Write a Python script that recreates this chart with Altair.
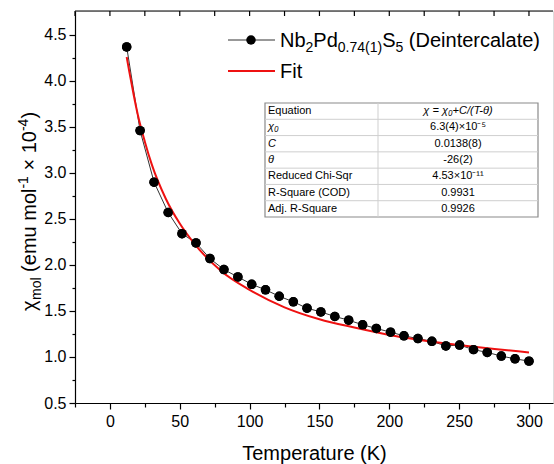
import altair as alt
import pandas as pd

# Measured molar susceptibility (units of 1e-4 emu/mol) vs temperature
temperature = [12.0, 21.6, 31.6, 41.7, 51.6, 61.6, 71.6, 81.6, 91.6, 101.5,
               111.4, 121.2, 131.3, 141.1, 151.0, 161.0, 170.9, 180.9, 190.7, 200.9,
               210.5, 220.5, 230.5, 240.5, 250.3, 260.3, 270.1, 280.2, 290.0, 300.0]
chi_mol = [4.37, 3.46, 2.90, 2.57, 2.34, 2.24, 2.07, 1.95, 1.87, 1.79,
           1.73, 1.66, 1.60, 1.53, 1.49, 1.44, 1.40, 1.35, 1.31, 1.27,
           1.23, 1.20, 1.17, 1.12, 1.13, 1.08, 1.05, 1.01, 0.98, 0.955]

# Curie-Weiss fit curve
fit_temperature = [12, 14, 17, 20, 25, 30, 40, 50, 60, 80, 100, 125, 150, 175, 200, 250, 300]
fit_chi = [4.26, 4.09, 3.85, 3.63, 3.34, 3.09, 2.72, 2.45, 2.24, 1.93, 1.73, 1.54,
           1.41, 1.32, 1.24, 1.13, 1.05]

# Fit-report table
table_labels = ["Equation", "χ₀", "C", "θ", "Reduced Chi-Sqr", "R-Square (COD)", "Adj. R-Square"]
table_values = ["χ = χ₀+C/(T-θ)", "6.3(4)×10⁻⁵", "0.0138(8)", "-26(2)", "4.53×10⁻¹¹", "0.9931", "0.9926"]
table_italic = [False, True, True, True, False, False, False]

x_major = [0, 50, 100, 150, 200, 250, 300]
x_minor = [-25, 25, 75, 125, 175, 225, 275]
y_major = [0.5, 1.0, 1.5, 2.0, 2.5, 3.0, 3.5, 4.0, 4.5]
y_minor = [0.75, 1.25, 1.75, 2.25, 2.75, 3.25, 3.75, 4.25]
top_ticks = list(range(-25, 301, 25))

FONT = "Liberation Sans"
W, H = 478, 392
LEFT, TOP = 75, 11

data = pd.DataFrame({"T": temperature, "chi": chi_mol})
fit = pd.DataFrame({"T": fit_temperature, "chi": fit_chi})
one = pd.DataFrame({"k": [0]})

xs = alt.Scale(domain=[-25, 317.2], nice=False, zero=False)
ys = alt.Scale(domain=[0.5, 4.76], nice=False, zero=False)

axis_common = dict(domainColor="black", domainWidth=1.2, tickColor="black", tickWidth=1.2,
                   labelFont=FONT, labelFontSize=16, labelColor="black", grid=False)

x_major_axis = alt.Axis(values=x_major, tickSize=6, labelPadding=4, title="Temperature (K)",
                        titleFont=FONT, titleFontSize=20, titleFontWeight="normal",
                        titleColor="black", titlePadding=14, format="d", **axis_common)
x_minor_axis = alt.Axis(values=x_minor, tickSize=4, labels=False, domain=False, title=None,
                        orient="bottom", tickColor="black", tickWidth=1.2, grid=False)
y_major_axis = alt.Axis(values=y_major, tickSize=6, labelPadding=3, title=None, format=".1f",
                        **axis_common)
y_minor_axis = alt.Axis(values=y_minor, tickSize=3, labels=False, domain=False, title=None,
                        orient="left", tickColor="black", tickWidth=1.2, grid=False)

points = alt.Chart(data).mark_circle(size=90, color="black", opacity=1).encode(
    x=alt.X("T:Q", scale=xs, axis=x_major_axis),
    y=alt.Y("chi:Q", scale=ys, axis=y_major_axis),
)
connect = alt.Chart(data).mark_line(color="#333333", strokeWidth=1).encode(
    x=alt.X("T:Q", scale=xs, axis=x_minor_axis),
    y=alt.Y("chi:Q", scale=ys, axis=y_minor_axis),
)
fit_line = alt.Chart(fit).mark_line(color="#ee1111", strokeWidth=2, interpolate="monotone").encode(
    x=alt.X("T:Q", scale=xs, axis=None),
    y=alt.Y("chi:Q", scale=ys, axis=None),
)

# frame: top edge with inward ticks
top_edge = alt.Chart(one).mark_rule(color="black", strokeWidth=1.2).encode(
    x=alt.value(0), x2=alt.value(W), y=alt.value(0))
top_tick_marks = alt.Chart(pd.DataFrame({"T": top_ticks})).mark_rule(
    color="black", strokeWidth=1.2).encode(
    x=alt.X("T:Q", scale=xs, axis=None), y=alt.value(0), y2=alt.value(5))

# Arial-compatible advance widths (em units) for composing sub/superscripts
ADV = {"N": .722, "b": .556, "P": .667, "d": .556, "S": .667, " ": .278,
       "(": .333, ")": .333, "D": .722, "e": .556, "i": .222, "n": .556, "t": .278,
       "r": .333, "c": .5, "a": .556, "l": .222, ".": .278, "m": .833, "o": .556,
       "u": .556, "×": .584, "-": .333, "χ": .55, "F": .611}
for dgt in "0123456789":
    ADV[dgt] = .556


def text_width(s, size):
    return sum(ADV.get(ch, .556) for ch in s) * size


def rich_text(pieces, x0, y0, vertical=False):
    """Lay out (text, size, shift) pieces along a baseline."""
    layers = []
    pos = 0.0
    for s, size, shift in pieces:
        lead = len(s) - len(s.lstrip(" "))
        pos += lead * ADV[" "] * size
        s = s.lstrip(" ")
        if vertical:
            px, py, ang = x0 + shift, y0 - pos, 270
        else:
            px, py, ang = x0 + pos, y0 + shift, 0
        layers.append(alt.Chart(one).mark_text(
            font=FONT, fontSize=size, align="left", baseline="alphabetic",
            angle=ang, color="black").encode(
            x=alt.value(px), y=alt.value(py), text=alt.value(s)))
        pos += text_width(s, size)
    return layers


# y-axis title
ytitle = rich_text([("χ", 20, 0), ("mol", 14, 5), (" (emu mol", 20, 0), ("-1", 14, -8),
                    (" × 10", 20, 0), ("-4", 14, -8), (")", 20, 0)],
                   36 - LEFT, 311 - TOP, vertical=True)

# legend
leg_line = alt.Chart(one).mark_rule(color="#333333", strokeWidth=1).encode(
    x=alt.value(228 - LEFT), x2=alt.value(275 - LEFT), y=alt.value(40 - TOP))
leg_dot = alt.Chart(one).mark_circle(size=90, color="black", opacity=1).encode(
    x=alt.value(251 - LEFT), y=alt.value(40 - TOP))
leg_red = alt.Chart(one).mark_rule(color="#ee1111", strokeWidth=2).encode(
    x=alt.value(228 - LEFT), x2=alt.value(275 - LEFT), y=alt.value(71 - TOP))
leg_text1 = rich_text([("Nb", 20, 0), ("2", 14, 5), ("Pd", 20, 0), ("0.74(1)", 14, 5),
                       ("S", 20, 0), ("5", 14, 5), (" (Deintercalate)", 20, 0)],
                      280 - LEFT, 47 - TOP)
leg_text2 = rich_text([("Fit", 20, 0)], 280 - LEFT, 78 - TOP)

# fit report table
t_left, t_right, t_div, t_top, t_bot = 265 - LEFT, 538 - LEFT, 378 - LEFT, 103 - TOP, 217 - TOP
row_h = (t_bot - t_top) / len(table_labels)
table_layers = [alt.Chart(one).mark_rect(fill="white", stroke="#8a8a8a", strokeWidth=1.2).encode(
    x=alt.value(t_left), x2=alt.value(t_right), y=alt.value(t_top), y2=alt.value(t_bot))]
for i in range(1, len(table_labels)):
    yy = t_top + i * row_h
    table_layers.append(alt.Chart(one).mark_rule(color="#cfcfcf", strokeWidth=1).encode(
        x=alt.value(t_left), x2=alt.value(t_right), y=alt.value(yy)))
table_layers.append(alt.Chart(one).mark_rule(color="#cfcfcf", strokeWidth=1).encode(
    x=alt.value(t_div), y=alt.value(t_top), y2=alt.value(t_bot)))
for i, (lab, val, it) in enumerate(zip(table_labels, table_values, table_italic)):
    yc = t_top + (i + 0.5) * row_h
    table_layers.append(alt.Chart(one).mark_text(
        font=FONT, fontSize=11, align="left", baseline="middle", color="black",
        fontStyle="italic" if it else "normal").encode(
        x=alt.value(t_left + 3), y=alt.value(yc), text=alt.value(lab)))
    table_layers.append(alt.Chart(one).mark_text(
        font=FONT, fontSize=11, align="center", baseline="middle", color="black",
        fontStyle="italic" if i == 0 else "normal").encode(
        x=alt.value((t_div + t_right) / 2), y=alt.value(yc), text=alt.value(val)))

chart = alt.layer(
    points, connect, fit_line, points.encode(
        x=alt.X("T:Q", scale=xs, axis=None), y=alt.Y("chi:Q", scale=ys, axis=None)),
    top_edge, top_tick_marks,
    *table_layers, leg_line, leg_dot, leg_red, *leg_text1, *leg_text2, *ytitle,
).resolve_axis(x="independent", y="independent").properties(
    width=W, height=H,
    padding={"left": LEFT, "top": TOP, "right": 554 - LEFT - W, "bottom": 464 - TOP - H},
    autosize=alt.AutoSizeParams(type="none"),
).configure_view(stroke=None).configure(background="white")

chart.save("out.html", embed_options={"renderer": "svg", "actions": False})
